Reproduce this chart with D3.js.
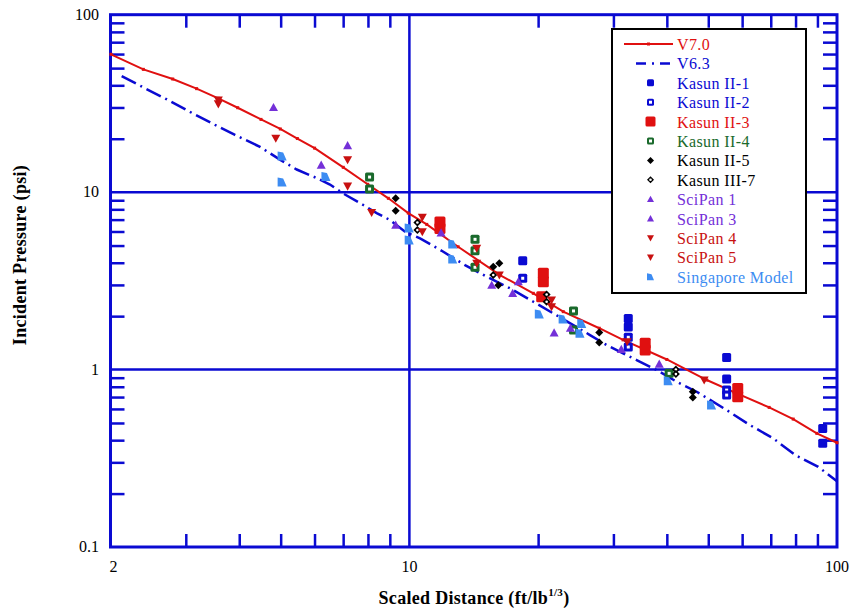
<!DOCTYPE html>
<html>
<head>
<meta charset="utf-8">
<script src="https://cdn.jsdelivr.net/npm/d3@7"></script>
<style>
  body { margin: 0; background: #fff; }
  text { font-family: "Liberation Serif", "Times New Roman", serif; }
</style>
</head>
<body>
<div class="d3-container"></div>
<script>
// curves: [scaled distance, pressure]
const v70 = [[2.005,59.8],[2.387,49.2],[2.796,43.4],[3.18,38.3],[3.574,33.8],[3.967,29.9],[4.498,25.7],
  [4.99,22.7],[5.47,20.05],[6.003,17.7],[7.005,13.8],[7.99,11.07],[8.93,9.23],[9.94,7.62],[10.98,6.58],
  [13.0,4.92],[16.29,3.41],[19.49,2.69],[22.9,2.12],[27.8,1.71],[31.6,1.47],[40.0,1.14],[49.6,0.873],
  [58.3,0.734],[69.4,0.612],[79.0,0.526],[89.7,0.437],[100,0.387]];
const v63 = [[2.124,45.1],[2.408,38.5],[2.731,33.0],[3.097,28.0],[3.478,24.2],[3.91,21.0],[4.473,18.0],
  [4.99,15.2],[5.452,13.41],[6.015,12.12],[6.52,11.03],[7.005,9.82],[7.8,8.46],[8.385,7.62],[9.01,6.96],
  [9.77,5.98],[10.59,5.49],[11.9,4.67],[13.49,3.88],[15.16,3.34],[17.19,2.87],[19.49,2.41],[22.11,2.02],
  [24.17,1.78],[26.45,1.565],[28.93,1.374],[34.0,1.131],[37.88,0.994],[42.2,0.853],[46.97,0.75],
  [55.2,0.591],[62.0,0.493],[71.0,0.409],[79.8,0.33],[90.4,0.283],[100,0.235]];

// test series
const kasun1 = [[18.41,4.10],[32.5,1.94],[32.5,1.74],[55.2,1.17],[55.2,0.884],[92.6,0.466],[92.6,0.384]];
const kasun2 = [[18.41,3.27],[32.5,1.52],[32.5,1.34],[55.2,0.766],[55.2,0.718]];
const kasun3 = [[11.79,6.78],[11.79,6.24],[20.57,3.49],[20.57,3.13],[20.39,2.57],[35.6,1.405],[35.6,1.288],[58.6,0.783],[58.6,0.703]];
const kasun4 = [[8.07,12.16],[8.07,10.41],[14.24,5.42],[14.24,4.67],[14.24,3.77],[24.2,2.14],[24.2,1.67],[40.5,0.952]];
const kasun5 = [[9.29,9.23],[9.29,7.86],[15.71,3.80],[16.23,3.97],[16.14,2.99],[27.8,1.62],[27.8,1.42],[46.0,0.75],[46.0,0.697]];
const kasun7 = [[10.44,6.74],[10.44,6.11],[15.71,3.41],[20.94,2.65],[20.94,2.41],[42.0,1.0],[42.0,0.943]];
const scipan1 = [[4.81,30.0],[7.17,18.3],[9.29,6.52],[15.58,2.99],[17.44,2.69],[23.8,1.71],[38.4,1.074]];
const scipan3 = [[6.22,14.2],[11.86,5.90],[17.98,3.13],[21.8,1.61],[31.3,1.30]];
const scipan4 = [[3.574,33.0],[4.87,20.1],[7.17,15.2],[8.16,7.67],[10.72,7.21],[14.37,4.82],[16.23,3.41],[21.5,2.465],[32.3,1.435],[48.9,0.873]];
const scipan5 = [[3.574,31.4],[7.17,10.8],[10.72,5.98],[14.37,3.97],[21.5,2.26]];
const singapore = [[5.04,15.98],[5.04,11.40],[6.38,12.24],[9.99,6.28],[9.99,5.37],[12.63,5.10],[12.63,4.20],
  [20.13,2.06],[22.88,1.93],[25.3,1.82],[25.06,1.60],[40.3,0.865],[50.9,0.631]];

const xMinor = [3,4,5,6,7,8,9,20,30,40,50,60,70,80,90];
const yMinor = [0.2,0.3,0.4,0.5,0.6,0.7,0.8,0.9,2,3,4,5,6,7,8,9,20,30,40,50,60,70,80,90];
const xLabels = [2,10,100];
const yLabels = [0.1,1,10,100];

const BLUE = "#0a0ad2", RED = "#e01010", DRED = "#c81010", PURPLE = "#7430d8",
      LBLUE = "#3d8cf2", GREEN = "#1a6a2c", BLACK = "#000";

const series = [
  {name: "Kasun II-1", data: kasun1, shape: "sq", color: BLUE, size: 9},
  {name: "Kasun II-2", data: kasun2, shape: "sqo", color: BLUE, size: 9},
  {name: "Kasun II-3", data: kasun3, shape: "sq", color: RED, size: 11},
  {name: "Kasun II-4", data: kasun4, shape: "sqo", color: GREEN, size: 9},
  {name: "Kasun II-5", data: kasun5, shape: "dia", color: BLACK, size: 8},
  {name: "Kasun III-7", data: kasun7, shape: "diao", color: BLACK, size: 8},
  {name: "SciPan 1", data: scipan1, shape: "tri", color: PURPLE, size: 9},
  {name: "SciPan 3", data: scipan3, shape: "tri", color: PURPLE, size: 9},
  {name: "SciPan 4", data: scipan4, shape: "trid", color: DRED, size: 9},
  {name: "SciPan 5", data: scipan5, shape: "trid", color: DRED, size: 9},
  {name: "Singapore Model", data: singapore, shape: "sing", color: LBLUE, size: 9}
];

const W = 855, H = 608;
const svg = d3.select(".d3-container").append("svg").attr("width", W).attr("height", H);

const x = d3.scaleLog().domain([2, 100]).range([110.5, 837]);
const y = d3.scaleLog().domain([0.1, 100]).range([547, 14.7]);

// grid lines
svg.append("line").attr("x1", x(10)).attr("x2", x(10)).attr("y1", y(100)).attr("y2", y(0.1))
  .attr("stroke", BLUE).attr("stroke-width", 2.5);
[1, 10].forEach(v => {
  svg.append("line").attr("x1", x(2)).attr("x2", x(100)).attr("y1", y(v)).attr("y2", y(v))
    .attr("stroke", BLUE).attr("stroke-width", 2.5);
});

// axes with inward ticks
const tk = 13;
svg.append("g").attr("transform", `translate(0,${y(0.1)})`)
  .call(d3.axisBottom(x).tickValues(xMinor).tickSize(-tk).tickFormat(""));
svg.append("g").attr("transform", `translate(0,${y(100)})`)
  .call(d3.axisTop(x).tickValues(xMinor).tickSize(-tk).tickFormat(""));
svg.append("g").attr("transform", `translate(${x(2)},0)`)
  .call(d3.axisLeft(y).tickValues(yMinor).tickSize(-tk - 1).tickFormat(""));
svg.append("g").attr("transform", `translate(${x(100)},0)`)
  .call(d3.axisRight(y).tickValues(yMinor).tickSize(-tk - 1).tickFormat(""));
svg.selectAll(".domain").remove();
svg.selectAll(".tick line").attr("stroke", BLUE).attr("stroke-width", 2.5);

svg.append("rect").attr("x", x(2)).attr("y", y(100)).attr("width", x(100) - x(2)).attr("height", y(0.1) - y(100))
  .attr("fill", "none").attr("stroke", BLUE).attr("stroke-width", 3);

// tick labels
svg.selectAll(".ylab").data(yLabels).join("text")
  .attr("x", 99).attr("y", d => y(d) + 5).attr("text-anchor", "end")
  .attr("font-size", 16).text(d => d);
svg.selectAll(".xlab").data(xLabels).join("text")
  .attr("x", d => x(d) + (d === 2 ? 3 : 0)).attr("y", 572).attr("text-anchor", "middle")
  .attr("font-size", 16).text(d => d);

// axis titles
svg.append("text").attr("transform", "translate(26,255) rotate(-90)").attr("text-anchor", "middle")
  .attr("font-size", 18).attr("font-weight", "bold").attr("letter-spacing", 0.3).text("Incident Pressure (psi)");
const xt = svg.append("text").attr("x", 474).attr("y", 604).attr("text-anchor", "middle")
  .attr("font-size", 18).attr("font-weight", "bold").attr("letter-spacing", 0.3);
xt.append("tspan").text("Scaled Distance (ft/lb");
xt.append("tspan").attr("dy", -8).attr("font-size", 11).text("1/3");
xt.append("tspan").attr("dy", 8).text(")");

// curves
const line = d3.line().x(d => x(d[0])).y(d => y(d[1]));
svg.append("path").datum(v63).attr("d", line).attr("fill", "none").attr("stroke", BLUE)
  .attr("stroke-width", 2.5).attr("stroke-dasharray", "16,5,2,5");
svg.append("path").datum(v70).attr("d", line).attr("fill", "none").attr("stroke", RED).attr("stroke-width", 2);
svg.selectAll(".v70pt").data(v70).join("rect")
  .attr("x", d => x(d[0]) - 1.5).attr("y", d => y(d[1]) - 1.5).attr("width", 3).attr("height", 3).attr("fill", RED);

// marker drawing
function marker(g, shape, color, s, cx, cy) {
  const h = s / 2;
  if (shape === "sq" || shape === "sqo") {
    g.append("rect").attr("x", cx - h).attr("y", cy - h).attr("width", s).attr("height", s)
      .attr("rx", 1.5).attr("fill", color);
    if (shape === "sqo") g.append("rect").attr("x", cx - 1.5).attr("y", cy - 1.5).attr("width", 3).attr("height", 3).attr("fill", "#fff");
  } else if (shape === "dia" || shape === "diao") {
    g.append("path").attr("d", `M${cx},${cy - h}L${cx + h},${cy}L${cx},${cy + h}L${cx - h},${cy}Z`).attr("fill", color);
    if (shape === "diao") g.append("circle").attr("cx", cx).attr("cy", cy).attr("r", 1.3).attr("fill", "#fff");
  } else if (shape === "tri") {
    g.append("path").attr("d", `M${cx},${cy - h}L${cx + h},${cy + h * 0.8}L${cx - h},${cy + h * 0.8}Z`).attr("fill", color);
  } else if (shape === "trid") {
    g.append("path").attr("d", `M${cx},${cy + h}L${cx + h},${cy - h * 0.8}L${cx - h},${cy - h * 0.8}Z`).attr("fill", color);
  } else if (shape === "sing") {
    g.append("path").attr("d", `M${cx - h},${cy - h}L${cx + 1},${cy - h + 1}L${cx + h},${cy + h}L${cx - h},${cy + h}Z`).attr("fill", color);
  }
}

const pts = svg.append("g");
series.forEach(s => {
  s.data.forEach(d => marker(pts, s.shape, s.color, s.size, x(d[0]), y(d[1])));
});

// legend
const lg = svg.append("g");
lg.append("rect").attr("x", 612).attr("y", 29).attr("width", 194).attr("height", 264)
  .attr("fill", "#fff").attr("stroke", "#000").attr("stroke-width", 2);
const tx = 677, ly0 = 44, dy = 19.4;
lg.append("line").attr("x1", 624).attr("x2", 673).attr("y1", ly0).attr("y2", ly0).attr("stroke", RED).attr("stroke-width", 2);
lg.append("rect").attr("x", 647).attr("y", ly0 - 1.5).attr("width", 3).attr("height", 3).attr("fill", RED);
lg.append("text").attr("x", tx).attr("y", ly0 + 6).attr("font-size", 16).attr("letter-spacing", 0.4).attr("fill", RED).text("V7.0");
lg.append("line").attr("x1", 636).attr("x2", 673).attr("y1", ly0 + dy).attr("y2", ly0 + dy).attr("stroke", BLUE)
  .attr("stroke-width", 2.5).attr("stroke-dasharray", "10,6,2,6");
lg.append("text").attr("x", tx).attr("y", ly0 + dy + 6).attr("font-size", 16).attr("letter-spacing", 0.4).attr("fill", BLUE).text("V6.3");
series.forEach((s, i) => {
  const yy = ly0 + dy * (i + 2);
  marker(lg, s.shape, s.color, s.size > 10 ? 10 : 7, 650.5, yy);
  lg.append("text").attr("x", tx).attr("y", yy + 6).attr("font-size", 16).attr("letter-spacing", 0.4)
    .attr("fill", s.color).text(s.name);
});
</script>
</body>
</html>
